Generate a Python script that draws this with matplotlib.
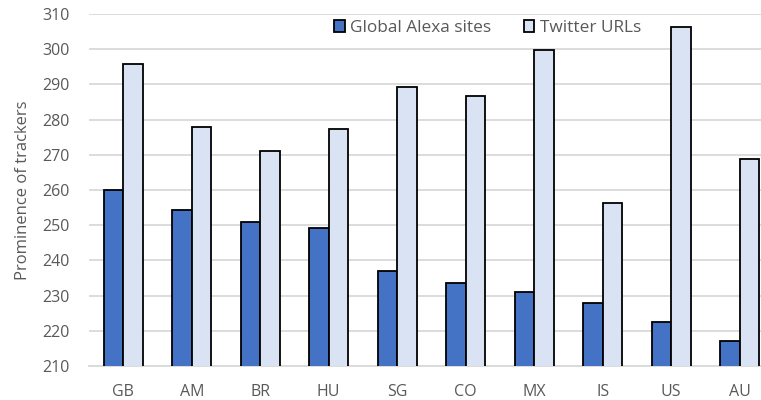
import matplotlib
matplotlib.use("Agg")
import matplotlib.pyplot as plt
import numpy as np

countries = ["GB", "AM", "BR", "HU", "SG", "CO", "MX", "IS", "US", "AU"]
alexa = [260.0, 254.4, 250.8, 249.2, 237.1, 233.6, 231.1, 227.9, 222.4, 217.1]
twitter = [295.8, 277.9, 271.2, 277.3, 289.2, 286.7, 299.8, 256.3, 306.3, 268.8]
yticks = [210, 220, 230, 240, 250, 260, 270, 280, 290, 300, 310]

plt.rcParams["font.family"] = ["Open Sans", "DejaVu Sans"]
text_color = "#595959"

fig = plt.figure(figsize=(7.61, 4.00), dpi=100)
ax = fig.add_axes([89 / 761, 34 / 400, 685 / 761, 352 / 400])

x = np.arange(len(countries))
w = 0.285
ax.bar(x - w / 2, alexa, width=w, color="#4472C4", edgecolor="black",
       linewidth=1.3, label="Global Alexa sites", zorder=3)
ax.bar(x + w / 2, twitter, width=w, color="#DAE3F3", edgecolor="black",
       linewidth=1.3, label="Twitter URLs", zorder=3)

ax.set_ylim(210, 310)
ax.set_xlim(-0.5, len(countries) - 0.5)
ax.set_yticks(yticks)
ax.set_xticks(x)
ax.set_xticklabels(countries)
ax.grid(axis="y", color="#D9D9D9", linewidth=1.3, zorder=0)
for s in ["top", "right", "left"]:
    ax.spines[s].set_visible(False)
ax.spines["bottom"].set_color("#D9D9D9")
ax.spines["bottom"].set_linewidth(1.3)
ax.tick_params(axis="both", length=0, labelsize=11.5, labelcolor=text_color)
ax.tick_params(axis="y", pad=14)
ax.tick_params(axis="x", pad=13)

ax.set_ylabel("Prominence of trackers", fontsize=12, color=text_color, labelpad=8)

leg = ax.legend(loc="center left", bbox_to_anchor=(334 / 761, 1 - 28 / 400),
                bbox_transform=fig.transFigure,
                ncol=2, frameon=False, fontsize=12.4, handlelength=0.62,
                handleheight=0.62, handletextpad=0.3, columnspacing=1.9,
                borderpad=0.0, borderaxespad=0.0)
for t in leg.get_texts():
    t.set_color(text_color)

fig.savefig("out.png", dpi=100)
